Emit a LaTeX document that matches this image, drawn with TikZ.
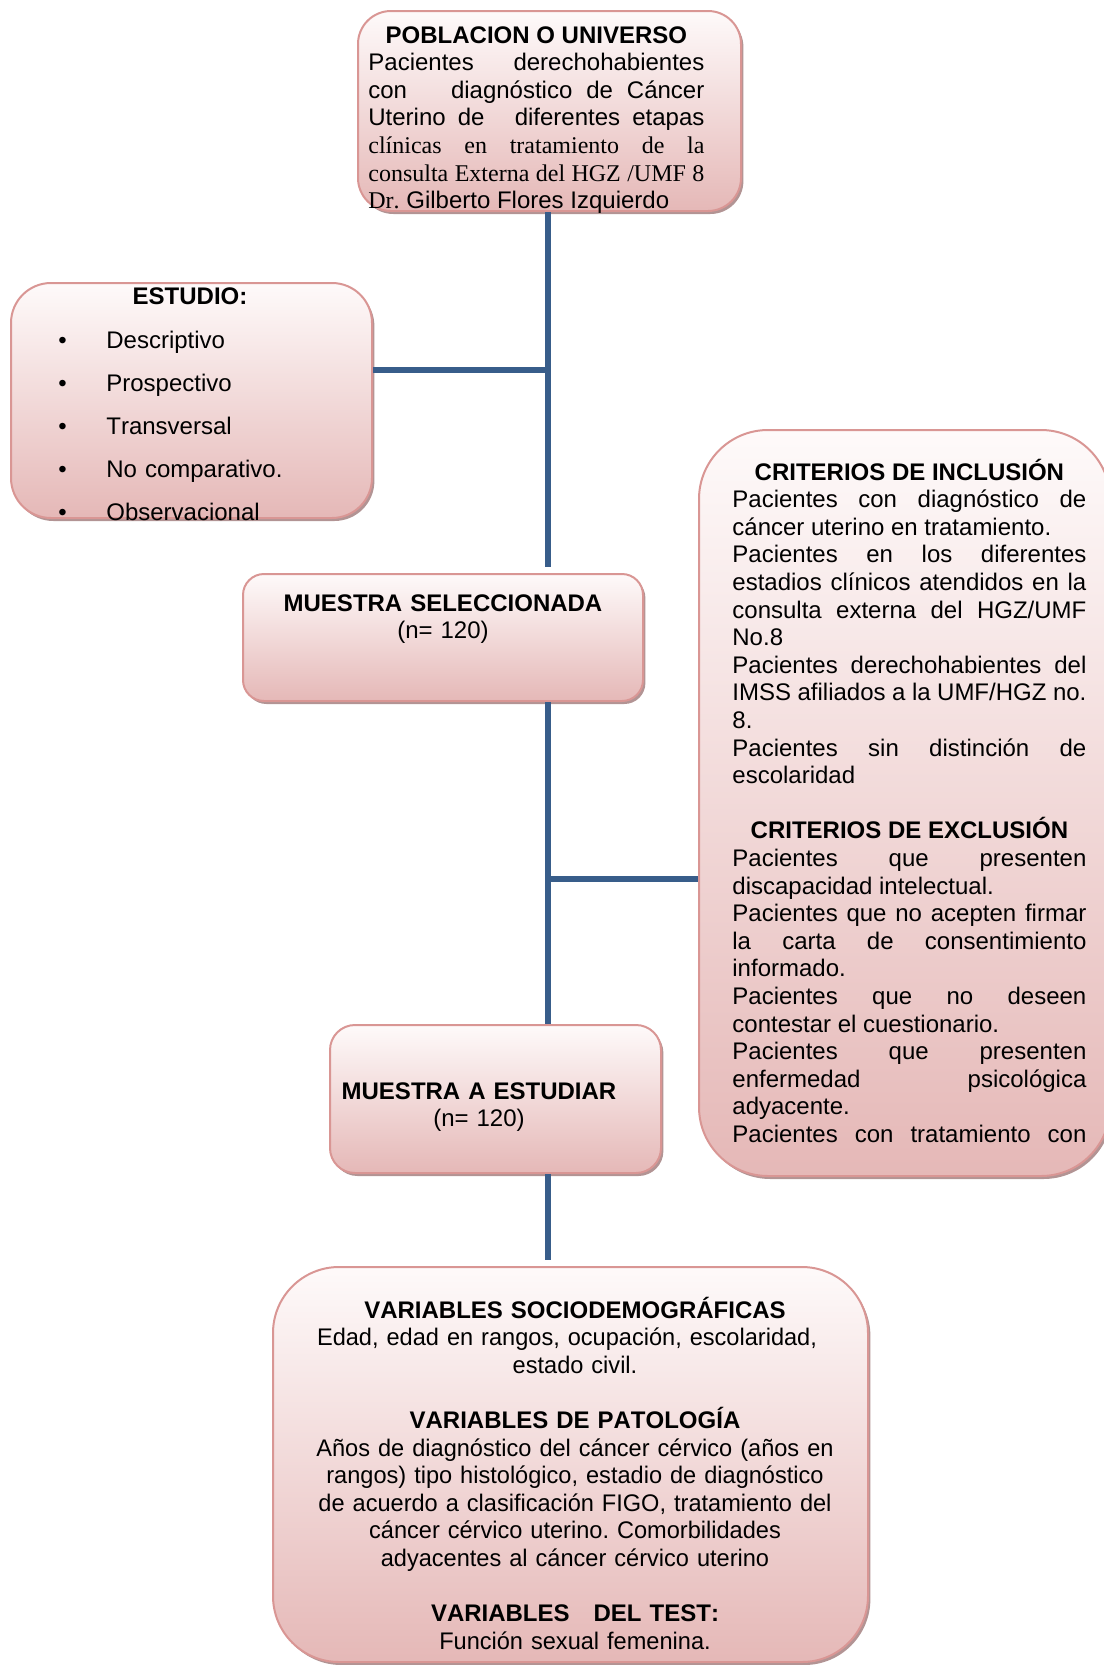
\documentclass[tikz,border=0pt]{standalone}
\usepackage{fontspec}
\setmainfont{Liberation Sans}[Kerning=Off]
\newfontfamily\timesf{Liberation Serif}[Kerning=Off]
\newfontfamily\narrowf{Liberation Sans}[FakeStretch=0.982, Kerning=Off]
\usepackage{tikz}
\usetikzlibrary{shadows}
\frenchspacing

\definecolor{boxline}{RGB}{217,150,148}
\definecolor{boxtop}{RGB}{254,250,250}
\definecolor{boxbot}{RGB}{229,184,183}
\definecolor{boxshade}{RGB}{178,148,148}
\definecolor{linkblue}{RGB}{56,93,138}

\newcommand{\jline}[1]{\makebox[\linewidth][s]{#1}\par}
\newcommand{\fline}[1]{\makebox[\linewidth][l]{#1}\par}
\newcommand{\tline}[1]{\makebox[\linewidth][c]{\bfseries #1}\par}

\begin{document}
\begin{tikzpicture}[x=0.5pt, y=-0.5pt,
	box/.style={draw=boxline, line width=1pt, rounded corners=#1, top color=boxtop, bottom color=boxbot,
		drop shadow={shadow xshift=1.2pt, shadow yshift=-1.5pt, fill=boxshade, opacity=1}, inner sep=0pt},
	txt/.style={inner sep=0pt, font={\fontsize{12}{13.8}\selectfont}},
	link/.style={draw=linkblue, line width=2.8pt}]
	\useasboundingbox (0,0) rectangle (1103,1665);

	\node[box=16.5pt, minimum width=191.5pt, minimum height=100pt] (pob) at (549.5,111) {};
	\node[box=20pt, minimum width=180.5pt, minimum height=117.5pt] (est) at (191.5,400.5) {};
	\node[box=10.5pt, minimum width=200pt, minimum height=63.5pt] (msel) at (443,637.5) {};
	\node[box=34.5pt, minimum width=205.5pt, minimum height=373pt] (crit) at (904.5,803) {};
	\node[box=12.5pt, minimum width=165.5pt, minimum height=74pt] (mest) at (495.5,1099) {};
	\node[box=33pt, minimum width=297.5pt, minimum height=197.5pt] (vars) at (570.5,1464.5) {};

	\coordinate (j1) at (548,370);
	\coordinate (j2) at (548,879);

	\draw[link] (pob.south -| j1) -- ([yshift=3pt]msel.north -| j1);
	\draw[link] (est.east |- j1) -- (j1);
	\draw[link] (msel.south -| j1) -- (mest.north -| j1);
	\draw[link] (j2) -- (crit.west |- j2);
	\draw[link] (mest.south -| j1) -- ([yshift=3pt]vars.north -| j1);

	\node[txt, text width=168pt, align=justify, anchor=base west] (pobtxt) at (368,43) {%
		\tline{POBLACION O UNIVERSO}
		\jline{Pacientes derechohabientes}
		\jline{con\hspace{15pt} diagnóstico de Cáncer}
		\jline{Uterino de\hspace{9pt} diferentes etapas}
		\jline{\timesf clínicas en tratamiento de la}
		\jline{\timesf consulta Externa del HGZ /UMF 8}
		\fline{{\timesf Dr.} Gilberto Flores Izquierdo}};

	\node[txt, anchor=base] (esttit) at (190,304) {\bfseries ESTUDIO:};
	\node[txt, text width=140pt, align=left, anchor=base west, font={\fontsize{12}{21.5}\selectfont}] (estlist) at (58,348) {%
		\makebox[24pt][l]{•}Descriptivo\\
		\makebox[24pt][l]{•}Prospectivo\\
		\makebox[24pt][l]{•}Transversal\\
		\makebox[24pt][l]{•}No comparativo.\\
		\makebox[24pt][l]{•}Observacional};

	\node[txt, text width=200pt, align=center, anchor=base] (mseltxt) at (443,611) {\textbf{MUESTRA SELECCIONADA}\\(n= 120)};

	\node[txt, text width=177pt, align=justify, anchor=base west] (crittxt) at (732,480) {%
		\tline{CRITERIOS DE INCLUSIÓN}
		\jline{Pacientes con diagnóstico de}
		\fline{cáncer uterino en tratamiento.}
		\jline{Pacientes en los diferentes}
		\jline{estadios clínicos atendidos en la}
		\jline{consulta externa del HGZ/UMF}
		\fline{No.8}
		\jline{Pacientes derechohabientes del}
		\jline{IMSS afiliados a la UMF/HGZ no.}
		\fline{8.}
		\jline{Pacientes sin distinción de}
		\fline{escolaridad}
		\fline{}
		\tline{CRITERIOS DE EXCLUSIÓN}
		\jline{Pacientes que presenten}
		\fline{discapacidad intelectual.}
		\jline{Pacientes que no acepten firmar}
		\jline{la carta de consentimiento}
		\fline{informado.}
		\jline{Pacientes que no deseen}
		\fline{contestar el cuestionario.}
		\jline{Pacientes que presenten}
		\jline{enfermedad psicológica}
		\fline{adyacente.}
		\jline{Pacientes con tratamiento con}};

	\node[txt, text width=165pt, align=center, anchor=base] (mesttxt) at (479,1099) {\textbf{MUESTRA A ESTUDIAR}\\(n= 120)};

	\node[txt, text width=290pt, align=center, anchor=base] (varstxt) at (575,1318) {%
		\textbf{VARIABLES SOCIODEMOGRÁFICAS}\\
		\hspace*{-8pt}{\narrowf Edad, edad en rangos, ocupación, escolaridad,}\\
		{\narrowf estado civil.}\\[13.8pt]
		\textbf{VARIABLES DE PATOLOGÍA}\\
		{\narrowf Años de diagnóstico del cáncer cérvico (años en}\\
		{\narrowf rangos) tipo histológico, estadio de diagnóstico}\\
		{\narrowf de acuerdo a clasificación FIGO, tratamiento del}\\
		{\narrowf cáncer cérvico uterino. Comorbilidades}\\
		{\narrowf adyacentes al cáncer cérvico uterino}\\[13.8pt]
		\textbf{VARIABLES\ \ \ DEL TEST:}\\
		{\narrowf Función sexual femenina.}};
\end{tikzpicture}
\end{document}
